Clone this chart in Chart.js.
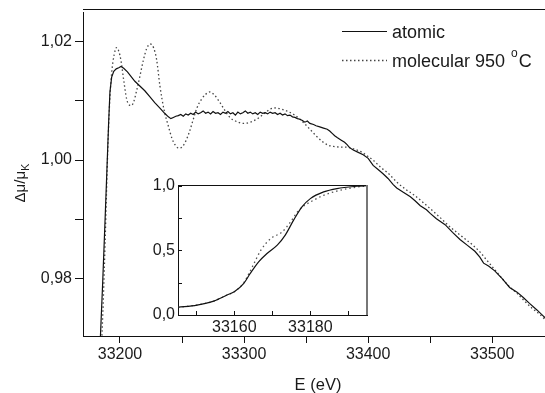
<!DOCTYPE html>
<html><head><meta charset="utf-8">
<script src="https://cdn.jsdelivr.net/npm/chart.js@4/dist/chart.umd.min.js"></script>
<style>
html,body{margin:0;padding:0;background:#fff;overflow:hidden;}
#wrap{position:relative;width:545px;height:393px;}
#main{position:absolute;left:0;top:0;}
#inset{position:absolute;left:130px;top:170px;}
</style></head><body>
<div id="wrap">
<canvas id="main" width="545" height="393"></canvas>
<canvas id="inset" width="245" height="170"></canvas>
</div>
<script>
// ---- data ----
const atomicE = [33184.0,33186.0,33188.0,33189.5,33190.8,33191.9,33193.3,33195.0,33197.0,33199.0,33200.8,33203.0,33206.0,33209.0,33212.0,33216.0,33220.0,33224.0,33228.0,33232.0,33236.0,33239.0,33241.0,33243.0,33245.0,
33247,33249,33251,33253,33255,33257,33259,33261,33263,33265,33267,33269,33271,33273,33275,33277,33279,33281,33283,33285,33287,33289,33291,33293,33295,33297,33299,33301,33303,33305,33307,33309,33311,33313,33315,33317,33319,33321,33323,33325,33327,33329,33331,33333,33335,33337,33339,33341,33343,33345,33347,33349,33351,33353,
33356,33358,33361,33364,33367,33369,33371,33373,33375,33378,33381,33383,33385,33388,33392,33396,33400,33404,33408,33412,33416,33420,33423,33428,33434,33438,33442,33447,33450,33455,33462,33468,33474,33480,33486,33490,33493,33497,33502,33508,33514,33520,33525,33530,33536,33541,33545];
const atomicV = [0.9690,0.9790,0.9900,0.9985,1.0060,1.0115,1.0140,1.0150,1.0154,1.0156,1.0158,1.0155,1.0149,1.0141,1.0133,1.0125,1.0117,1.0107,1.0097,1.0088,1.0079,1.0073,1.0070,1.0072,1.0074,
1.0075,1.0077,1.0074,1.0078,1.0076,1.0079,1.0077,1.0081,1.0078,1.0080,1.0083,1.0079,1.0081,1.0078,1.0082,1.0079,1.0080,1.0077,1.0081,1.0079,1.0082,1.0078,1.0080,1.0076,1.0081,1.0078,1.0080,1.0083,1.0079,1.0081,1.0078,1.0080,1.0077,1.0081,1.0079,1.0080,1.0078,1.0081,1.0079,1.0080,1.0077,1.0079,1.0076,1.0078,1.0075,1.0076,1.0073,1.0072,1.0070,1.0069,1.0067,1.0064,1.0066,1.0062,
1.0060,1.0058,1.0056,1.0054,1.0052,1.0049,1.0045,1.0041,1.0038,1.0034,1.0030,1.0026,1.0021,1.0017,1.0013,1.0009,1.0003,0.9991,0.9984,0.9977,0.9969,0.9959,0.9953,0.9946,0.9938,0.9931,0.9923,0.9916,0.9910,0.9901,0.9891,0.9878,0.9866,0.9856,0.9846,0.9836,0.9826,0.9821,0.9813,0.9800,0.9785,0.9777,0.9768,0.9758,0.9747,0.9737,0.9729];

const molecularE = [33185.2,33186.5,33188.0,33189.2,33190.1,33191.5,33193.3,33195.3,33197.3,33199.0,33200.8,33203.0,33205.4,33207.5,33209.2,33211.0,33213.5,33216.1,33219.0,33221.5,33224.4,33227.0,33229.5,33232.2,33235.5,33238.9,33242.0,33245.0,33247.5,33250.0,33253.0,33256.0,33259.1,33262.0,33265.8,33269.0,33272.5,33276.0,33280.6,33284.5,33288.6,33293.0,33299.4,33305.0,33310.2,33316.0,33321.0,33325.0,33330.0,33334.3,33340.0,33345.0,33349.0,33353.1,33358.0,33363.8,33368.0,33372.0,33378.0,33383.0,33388.0,33392.0,33396.0,33400.0,33404.0,33410.0,33416.0,33423.0,33430.0,33437.0,33444.0,33450.0,33458.0,33465.0,33472.0,33478.0,33484.0,33490.0,33496.0,33502.0,33508.0,33514.0,33520.0,33526.0,33532.0,33538.0,33543.0];
const molecularV = [0.9690,0.9760,0.9860,0.9950,1.0013,1.0090,1.0147,1.0178,1.0190,1.0184,1.0168,1.0135,1.0103,1.0093,1.0092,1.0098,1.0118,1.0142,1.0170,1.0188,1.0196,1.0190,1.0170,1.0125,1.0085,1.0058,1.0036,1.0024,1.0020,1.0022,1.0032,1.0048,1.0069,1.0088,1.0103,1.0111,1.0115,1.0110,1.0097,1.0084,1.0072,1.0066,1.0062,1.0064,1.0069,1.0078,1.0086,1.0088,1.0086,1.0083,1.0077,1.0069,1.0061,1.0052,1.0041,1.0030,1.0025,1.0023,1.0022,1.0022,1.0019,1.0016,1.0012,1.0006,1.0000,0.9988,0.9978,0.9963,0.9951,0.9941,0.9929,0.9918,0.9903,0.9889,0.9877,0.9867,0.9857,0.9845,0.9830,0.9815,0.9800,0.9786,0.9775,0.9762,0.9750,0.9740,0.9730];

const insetAtomicE = [33145.2,33150.2,33154.6,33158.1,33160.0,33162.5,33164.2,33166.4,33168.6,33171.3,33173.4,33175.6,33177.8,33180.0,33183.5,33187.0,33192.3,33194.9];
const insetAtomicV = [0.060,0.077,0.108,0.155,0.180,0.245,0.322,0.412,0.477,0.541,0.619,0.735,0.838,0.902,0.954,0.980,0.998,1.003];
const insetMolE = [33145.2,33150.2,33154.6,33158.1,33160.0,33162.5,33164.0,33165.2,33167.0,33169.6,33172.6,33174.8,33176.6,33178.0,33180.0,33183.5,33187.0,33192.3,33194.9];
const insetMolV = [0.060,0.077,0.108,0.155,0.180,0.250,0.330,0.400,0.503,0.593,0.644,0.722,0.799,0.840,0.876,0.928,0.961,0.992,1.000];

const mainXTicks = [33200,33250,33300,33350,33400,33450,33500];
const mainYTicks = [0.98,0.99,1.00,1.01,1.02];
const insetXTicks = [33150,33160,33170,33180,33190];
const insetYTicks = [0,0.25,0.5,0.75,1.0];

const seriesNames = ['atomic','molecular 950 '];
const xTitle = 'E (eV)';

const FONT = "'Liberation Sans', Arial, sans-serif";
const INK = '#1a1a1a';

function pts(xs, ys){ return xs.map((x,i)=>({x:x, y:ys[i]})); }

// ---- decoration plugin for main chart ----
const mainDecor = {
  id:'mainDecor',
  afterDraw(chart){
    const ctx = chart.ctx, a = chart.chartArea;
    ctx.save();
    // top frame line
    ctx.strokeStyle = '#111'; ctx.lineWidth = 1; ctx.setLineDash([]);
    ctx.beginPath(); ctx.moveTo(a.left, 9.5); ctx.lineTo(a.right, 9.5); ctx.stroke();
    // legend
    ctx.lineWidth = 1.2; ctx.strokeStyle = '#111';
    ctx.beginPath(); ctx.moveTo(342, 31.5); ctx.lineTo(387, 31.5); ctx.stroke();
    ctx.strokeStyle = '#444'; ctx.lineWidth = 1.3; ctx.setLineDash([1.5,2.5]);
    ctx.beginPath(); ctx.moveTo(342, 60.5); ctx.lineTo(387, 60.5); ctx.stroke();
    ctx.setLineDash([]);
    ctx.fillStyle = INK; ctx.textBaseline = 'alphabetic'; ctx.textAlign = 'left';
    ctx.font = '18px ' + FONT;
    ctx.fillText(seriesNames[0], 392, 38);
    ctx.fillText(seriesNames[1], 392, 67);
    let w = ctx.measureText(seriesNames[1]).width;
    ctx.font = '12px ' + FONT;
    ctx.fillText('o', 392 + w + 1, 57);
    let w2 = ctx.measureText('o').width;
    ctx.font = '18px ' + FONT;
    ctx.fillText('C', 392 + w + w2 + 2, 67);
    // x title
    ctx.textAlign = 'center'; ctx.textBaseline = 'middle';
    ctx.font = '16.5px ' + FONT;
    ctx.fillText(xTitle, 318, 385);
    // y title (rotated) with subscript K
    ctx.translate(21, 183); ctx.rotate(-Math.PI/2);
    ctx.font = '15px ' + FONT;
    const t1 = '\u0394\u03bc/\u03bc';
    const tw = ctx.measureText(t1).width;
    ctx.font = '11px ' + FONT;
    const kw = ctx.measureText('K').width;
    const start = -(tw + kw)/2;
    ctx.textAlign = 'left'; ctx.textBaseline = 'middle';
    ctx.font = '15px ' + FONT;
    ctx.fillText(t1, start, 0);
    ctx.font = '11px ' + FONT;
    ctx.fillText('K', start + tw, 5);
    ctx.restore();
  }
};

new Chart(document.getElementById('main'), {
  type:'line',
  data:{datasets:[
    {label:seriesNames[0], data:pts(atomicE, atomicV), borderColor:'#111', borderWidth:1.2, pointRadius:0, tension:0},
    {label:seriesNames[1], data:pts(molecularE, molecularV), borderColor:'#444', borderWidth:1.3, borderDash:[1.5,2.5], pointRadius:0, cubicInterpolationMode:'monotone'}
  ]},
  options:{
    responsive:false, animation:false, devicePixelRatio:1,
    layout:{padding:{top:9, right:0, left:0, bottom:0}},
    plugins:{legend:{display:false}, tooltip:{enabled:false}},
    scales:{
      x:{type:'linear', min:33170.2, max:33542.5,
        afterFit(s){ s.height = 57; },
        afterBuildTicks(s){ s.ticks = mainXTicks.map(v=>({value:v})); },
        grid:{drawOnChartArea:false, tickLength:7, color:'#111', tickColor:'#111', tickWidth:1},
        border:{color:'#111', width:1},
        ticks:{padding:2, color:INK, font:{family:FONT, size:16}, maxRotation:0, autoSkip:false,
          callback:(v)=> (Math.round(v) % 100 === 0 ? String(Math.round(v)) : '')}
      },
      y:{type:'linear', min:0.9703, max:1.0249,
        afterFit(s){ s.width = 83; },
        afterBuildTicks(s){ s.ticks = mainYTicks.map(v=>({value:v})); },
        grid:{drawOnChartArea:false, tickLength:8, color:'#111', tickColor:'#111', tickWidth:1},
        border:{color:'#111', width:1},
        ticks:{padding:3, color:INK, font:{family:FONT, size:16}, autoSkip:false,
          callback:(v)=> (Math.round(v*100) % 2 === 0 ? v.toFixed(2).replace('.', ',') : '')}
      }
    }
  },
  plugins:[mainDecor]
});

// ---- inset ----
const insetDecor = {
  id:'insetDecor',
  beforeDraw(chart){
    const ctx = chart.ctx, a = chart.chartArea;
    ctx.save(); ctx.fillStyle = '#fff';
    ctx.fillRect(a.left, a.top, a.right - a.left, a.bottom - a.top);
    ctx.restore();
  },
  afterDraw(chart){
    const ctx = chart.ctx, a = chart.chartArea;
    const xs = chart.scales.x, ys = chart.scales.y;
    ctx.save();
    ctx.strokeStyle = '#111'; ctx.lineWidth = 1;
    ctx.beginPath(); ctx.moveTo(a.left, Math.round(a.top)+0.5); ctx.lineTo(a.right, Math.round(a.top)+0.5); ctx.stroke();
    ctx.strokeStyle = '#777'; ctx.lineWidth = 2;
    ctx.beginPath(); ctx.moveTo(a.right, a.top); ctx.lineTo(a.right, a.bottom); ctx.stroke();
    ctx.strokeStyle = '#111'; ctx.lineWidth = 1;
    insetXTicks.forEach(v=>{
      const px = Math.round(xs.getPixelForValue(v)) + 0.5;
      ctx.beginPath(); ctx.moveTo(px, a.bottom); ctx.lineTo(px, a.bottom - 4); ctx.stroke();
    });
    insetYTicks.forEach(v=>{
      const py = Math.round(ys.getPixelForValue(v)) + 0.5;
      ctx.beginPath(); ctx.moveTo(a.left, py); ctx.lineTo(a.left + 4, py); ctx.stroke();
    });
    ctx.restore();
  }
};

new Chart(document.getElementById('inset'), {
  type:'line',
  data:{datasets:[
    {data:pts(insetAtomicE, insetAtomicV), borderColor:'#111', borderWidth:1.2, pointRadius:0, cubicInterpolationMode:'monotone'},
    {data:pts(insetMolE, insetMolV), borderColor:'#555', borderWidth:1.3, borderDash:[1.5,3], pointRadius:0, cubicInterpolationMode:'monotone'}
  ]},
  options:{
    responsive:false, animation:false, devicePixelRatio:1,
    layout:{padding:{top:15, right:8, left:0, bottom:0}},
    plugins:{legend:{display:false}, tooltip:{enabled:false}},
    scales:{
      x:{type:'linear', min:33145.2, max:33194.9,
        afterFit(s){ s.height = 25; },
        afterBuildTicks(s){ s.ticks = insetXTicks.map(v=>({value:v})); },
        grid:{drawOnChartArea:false, drawTicks:false},
        border:{color:'#111', width:1},
        ticks:{padding:3, color:INK, font:{family:FONT, size:16}, maxRotation:0, autoSkip:false,
          callback:(v)=> (Math.round(v) % 20 === 0 ? String(Math.round(v)) : '')}
      },
      y:{type:'linear', min:0, max:1.0077,
        afterFit(s){ s.width = 48; },
        afterBuildTicks(s){ s.ticks = insetYTicks.map(v=>({value:v})); },
        grid:{drawOnChartArea:false, drawTicks:false},
        border:{color:'#111', width:1},
        ticks:{padding:3, color:INK, font:{family:FONT, size:16}, autoSkip:false,
          callback:(v)=> (Math.abs(v*2 - Math.round(v*2)) < 1e-9 ? v.toFixed(1).replace('.', ',') : '')}
      }
    }
  },
  plugins:[insetDecor]
});
</script>
</body></html>
